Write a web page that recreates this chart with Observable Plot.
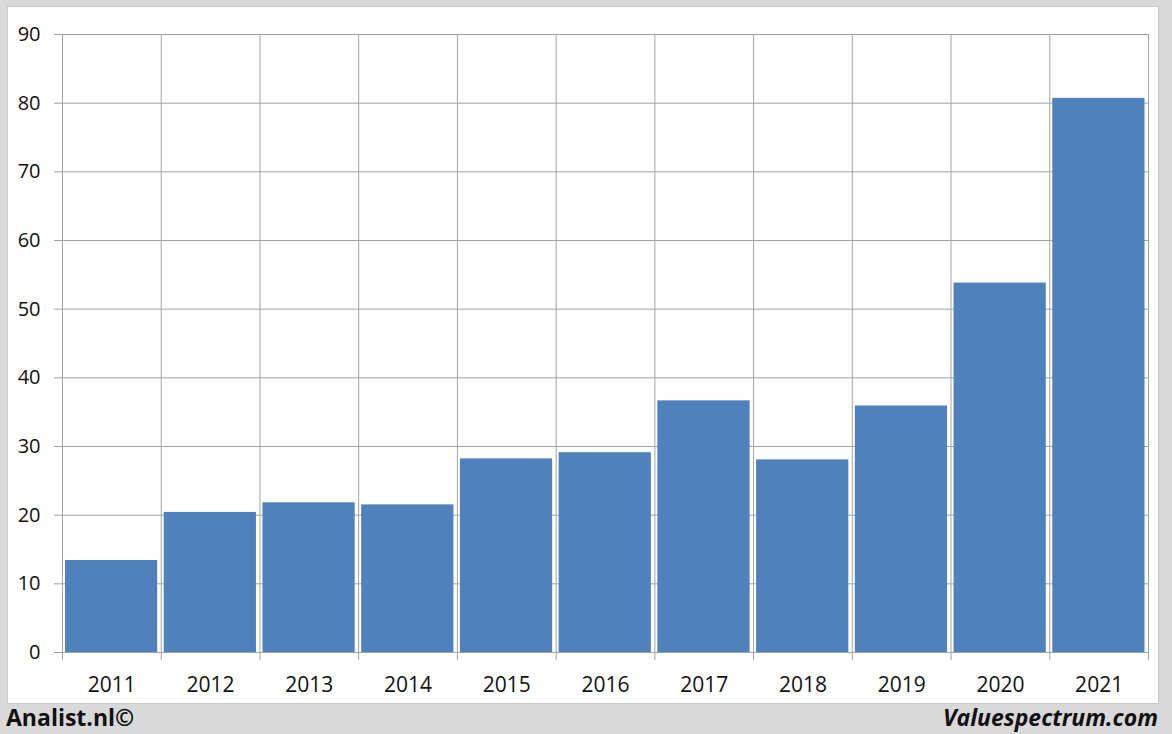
<!DOCTYPE html>
<html>
<head>
<meta charset="utf-8">
<script src="https://cdn.jsdelivr.net/npm/d3@7"></script>
<script src="https://cdn.jsdelivr.net/npm/@observablehq/plot@0.6"></script>
<style>
  html, body { margin: 0; padding: 0; }
  body { width: 1172px; height: 734px; background: #d9d9d9; position: relative; overflow: hidden; font-family: "Open Sans", sans-serif; }
  #panel { position: absolute; left: 8px; top: 7px; width: 1150px; height: 696px; background: #fff; box-shadow: 0 0 0 1px #c8c8c8; }
  #panel svg { display: block; }
  .foot { position: absolute; top: 700px; font-size: 23px; font-weight: 700; color: #111; line-height: 34px; }
  #left { left: 6px; }
  #right { right: 14px; font-style: italic; }
</style>
</head>
<body>
<div id="panel"></div>
<div class="foot" id="left">Analist.nl©</div>
<div class="foot" id="right">Valuespectrum.com</div>
<script>
const years = ["2011","2012","2013","2014","2015","2016","2017","2018","2019","2020","2021"];
const values = [13.4, 20.4, 21.8, 21.5, 28.2, 29.1, 36.65, 28.05, 35.9, 53.8, 80.7];
const yTicks = [0,10,20,30,40,50,60,70,80,90];

const data = years.map((y, i) => ({year: y, i, value: values[i]}));
const bounds = d3.range(years.length + 1);
const centers = years.map((_, i) => i + 0.5);

const grid = "#a3a3a3";
const chart = Plot.plot({
  width: 1150,
  height: 696,
  marginLeft: 54,
  marginRight: 10,
  marginTop: 27,
  marginBottom: 51,
  style: {fontFamily: "Open Sans, sans-serif", fontSize: "20px", color: "#111", background: "transparent"},
  x: {domain: [0, years.length], axis: null},
  y: {domain: [0, 90], axis: null},
  marks: [
    Plot.ruleY(yTicks, {y: d => d, x1: 0, x2: years.length, stroke: grid, strokeWidth: 1, insetLeft: -8}),
    Plot.ruleX(bounds, {x: d => d, y1: 90, y2: 0, stroke: grid, strokeWidth: 1, insetBottom: -8}),
    Plot.rectY(data, {x1: d => d.i, x2: d => d.i + 1, y: "value", fill: "#4f81bd", insetLeft: 3, insetRight: 3.5}),
    Plot.axisY({ticks: yTicks, tickSize: 0, tickPadding: 22, fontSize: 20, label: null, tickFormat: d => String(d)}),
    Plot.axisX({ticks: centers, tickSize: 0, tickPadding: 25, fontSize: 21, label: null, tickFormat: v => years[Math.floor(v)]})
  ]
});
document.getElementById("panel").appendChild(chart);
</script>
</body>
</html>
